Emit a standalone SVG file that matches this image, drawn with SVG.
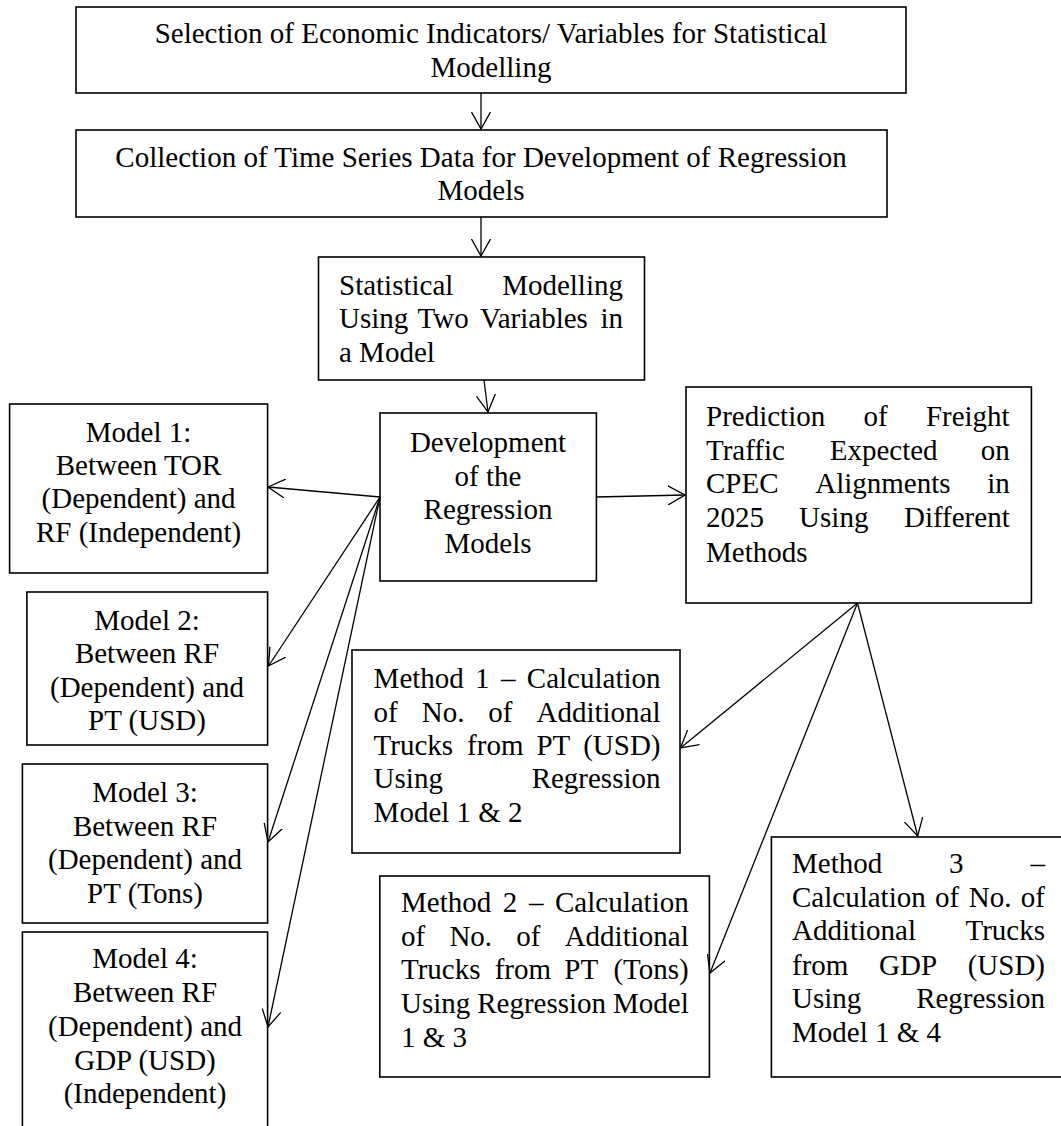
<svg xmlns="http://www.w3.org/2000/svg" width="1061" height="1126" viewBox="0 0 1061 1126">
<style>
  .box { fill: #fff; stroke: #000; stroke-width: 1.6; }
  .t { font-family: "Liberation Serif", "Times New Roman", serif; font-size: 29px; fill: #000; }
  .c { text-anchor: middle; }
  .e { text-anchor: end; }
  .conn line { stroke: #000; stroke-width: 1.3; marker-end: url(#ah); }
</style>
<defs>
  <marker id="ah" markerUnits="userSpaceOnUse" viewBox="0 0 18 20" markerWidth="18" markerHeight="20" refX="17" refY="10" orient="auto">
    <path d="M0,0.5 L17,10 L0,19.5" fill="none" stroke="#000" stroke-width="1.3"/>
  </marker>
</defs>
<rect width="1061" height="1126" fill="#fff"/>

<g id="n-selection">
  <rect class="box" x="76" y="7" width="830" height="86"/>
  <text class="t c" x="491" y="43">Selection of Economic Indicators/ Variables for Statistical</text>
  <text class="t c" x="491" y="77">Modelling</text>
</g>

<g id="n-collection">
  <rect class="box" x="76" y="130" width="811" height="87"/>
  <text class="t c" x="481" y="167">Collection of Time Series Data for Development of Regression</text>
  <text class="t c" x="481" y="200">Models</text>
</g>

<g id="n-statistical">
  <rect class="box" x="318.5" y="257" width="326" height="123"/>
  <text class="t" x="339" y="295">Statistical</text>
  <text class="t e" x="623" y="295">Modelling</text>
  <text class="t" x="339" y="328">Using</text>
  <text class="t" x="417.6" y="328">Two</text>
  <text class="t" x="480" y="328">Variables</text>
  <text class="t e" x="623" y="328">in</text>
  <text class="t" x="339" y="362">a Model</text>
</g>

<g id="n-development">
  <rect class="box" x="380" y="413" width="216.4" height="168"/>
  <text class="t c" x="488" y="452">Development</text>
  <text class="t c" x="488" y="486">of the</text>
  <text class="t c" x="488" y="519">Regression</text>
  <text class="t c" x="488" y="553">Models</text>
</g>

<g id="n-model1">
  <rect class="box" x="9.6" y="404" width="258" height="169"/>
  <text class="t c" x="138.6" y="442">Model 1:</text>
  <text class="t c" x="138.6" y="475">Between TOR</text>
  <text class="t c" x="138.6" y="508">(Dependent) and</text>
  <text class="t c" x="138.6" y="542">RF (Independent)</text>
</g>

<g id="n-model2">
  <rect class="box" x="26.9" y="592" width="240.7" height="153"/>
  <text class="t c" x="147" y="630">Model 2:</text>
  <text class="t c" x="147" y="663">Between RF</text>
  <text class="t c" x="147" y="697">(Dependent) and</text>
  <text class="t c" x="147" y="730">PT (USD)</text>
</g>

<g id="n-model3">
  <rect class="box" x="22.4" y="764" width="245.2" height="159"/>
  <text class="t c" x="145" y="802">Model 3:</text>
  <text class="t c" x="145" y="836">Between RF</text>
  <text class="t c" x="145" y="869">(Dependent) and</text>
  <text class="t c" x="145" y="903">PT (Tons)</text>
</g>

<g id="n-model4">
  <rect class="box" x="22.4" y="932" width="245.2" height="210"/>
  <text class="t c" x="145" y="968">Model 4:</text>
  <text class="t c" x="145" y="1002">Between RF</text>
  <text class="t c" x="145" y="1036">(Dependent) and</text>
  <text class="t c" x="145" y="1070">GDP (USD)</text>
  <text class="t c" x="145" y="1103">(Independent)</text>
</g>

<g id="n-prediction">
  <rect class="box" x="686" y="387" width="345.4" height="216"/>
  <text class="t" x="706" y="426">Prediction</text>
  <text class="t" x="863.5" y="426">of</text>
  <text class="t e" x="1009.7" y="426">Freight</text>
  <text class="t" x="706" y="460">Traffic</text>
  <text class="t" x="829.7" y="460">Expected</text>
  <text class="t e" x="1009.7" y="460">on</text>
  <text class="t" x="706" y="493">CPEC</text>
  <text class="t" x="815.2" y="493">Alignments</text>
  <text class="t e" x="1009.7" y="493">in</text>
  <text class="t" x="706" y="527">2025</text>
  <text class="t" x="799.1" y="527">Using</text>
  <text class="t e" x="1009.7" y="527">Different</text>
  <text class="t" x="706" y="562">Methods</text>
</g>

<g id="n-method1">
  <rect class="box" x="352" y="650" width="328" height="203"/>
  <text class="t" x="373.6" y="688">Method</text>
  <text class="t" x="475.1" y="688">1</text>
  <text class="t" x="501" y="688">–</text>
  <text class="t e" x="660.5" y="688">Calculation</text>
  <text class="t" x="373.6" y="722">of</text>
  <text class="t" x="421.7" y="722">No.</text>
  <text class="t" x="488.3" y="722">of</text>
  <text class="t e" x="660.5" y="722">Additional</text>
  <text class="t" x="373.6" y="755">Trucks</text>
  <text class="t" x="467.1" y="755">from</text>
  <text class="t" x="536.4" y="755">PT</text>
  <text class="t e" x="660.5" y="755">(USD)</text>
  <text class="t" x="373.6" y="788">Using</text>
  <text class="t e" x="660.5" y="788">Regression</text>
  <text class="t" x="373.6" y="822">Model 1 &amp; 2</text>
</g>

<g id="n-method2">
  <rect class="box" x="379.8" y="876" width="329.6" height="201"/>
  <text class="t" x="401" y="912">Method</text>
  <text class="t" x="502.8" y="912">2</text>
  <text class="t" x="528.9" y="912">–</text>
  <text class="t e" x="688.7" y="912">Calculation</text>
  <text class="t" x="401" y="946">of</text>
  <text class="t" x="449.4" y="946">No.</text>
  <text class="t" x="516.3" y="946">of</text>
  <text class="t e" x="688.7" y="946">Additional</text>
  <text class="t" x="401" y="979">Trucks</text>
  <text class="t" x="494.7" y="979">from</text>
  <text class="t" x="564.3" y="979">PT</text>
  <text class="t e" x="688.7" y="979">(Tons)</text>
  <text class="t" x="401" y="1013">Using</text>
  <text class="t" x="477.2" y="1013">Regression</text>
  <text class="t e" x="688.7" y="1013">Model</text>
  <text class="t" x="401" y="1047">1 &amp; 3</text>
</g>

<g id="n-method3">
  <rect class="box" x="771.4" y="837" width="310" height="240"/>
  <text class="t" x="792" y="873">Method</text>
  <text class="t" x="949.1" y="873">3</text>
  <text class="t e" x="1045" y="873">–</text>
  <text class="t" x="792" y="907">Calculation</text>
  <text class="t" x="935.1" y="907">of</text>
  <text class="t" x="968.7" y="907">No.</text>
  <text class="t e" x="1045" y="907">of</text>
  <text class="t" x="792" y="940">Additional</text>
  <text class="t e" x="1045" y="940">Trucks</text>
  <text class="t" x="792" y="975">from</text>
  <text class="t" x="879" y="975">GDP</text>
  <text class="t e" x="1045" y="975">(USD)</text>
  <text class="t" x="792" y="1008">Using</text>
  <text class="t e" x="1045" y="1008">Regression</text>
  <text class="t" x="792" y="1042">Model 1 &amp; 4</text>
</g>

<g id="connectors" class="conn">
  <line x1="481" y1="93" x2="481" y2="129"/>
  <line x1="481" y1="217" x2="481" y2="256"/>
  <line x1="484" y1="380" x2="488" y2="412"/>
  <line x1="380" y1="497" x2="268" y2="487"/>
  <line x1="380" y1="497" x2="268.5" y2="666"/>
  <line x1="380" y1="497" x2="268" y2="842"/>
  <line x1="380" y1="497" x2="268" y2="1027"/>
  <line x1="596.4" y1="497" x2="685" y2="495"/>
  <line x1="857.5" y1="603" x2="680.5" y2="748"/>
  <line x1="857.5" y1="603" x2="710" y2="973"/>
  <line x1="857.5" y1="603" x2="917.7" y2="836"/>
</g>
</svg>
